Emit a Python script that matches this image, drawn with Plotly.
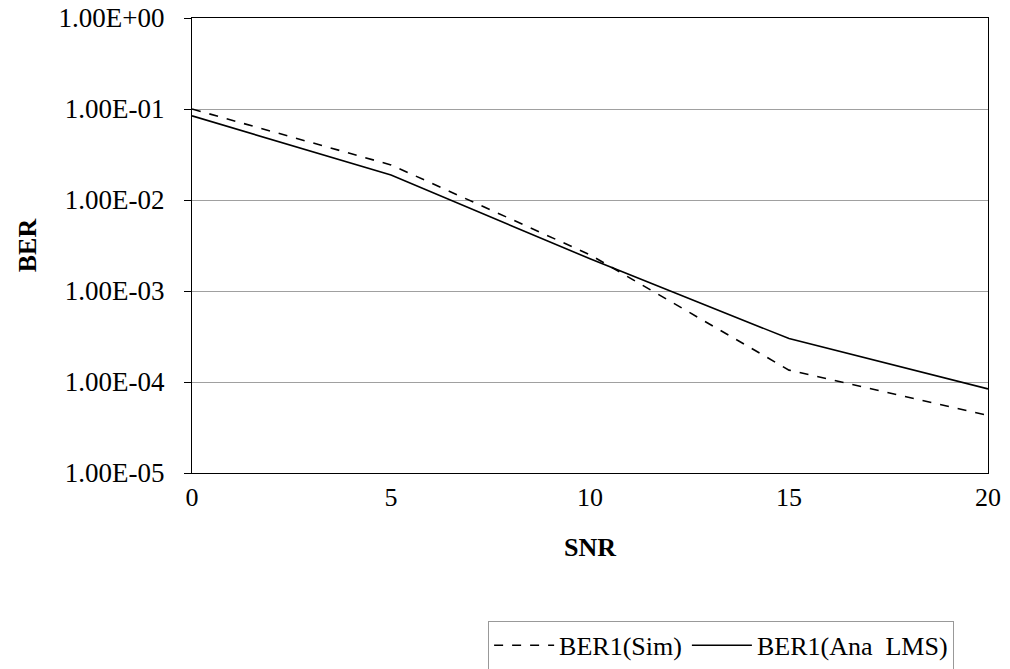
import plotly.graph_objects as go

snr = [0, 5, 10, 15, 20]
ber_sim = [0.100, 0.0243, 0.0025, 1.35e-4, 4.3e-5]
ber_ana = [0.084, 0.0188, 0.00226, 3.0e-4, 8.4e-5]

ytick_vals = [1e-5, 1e-4, 1e-3, 1e-2, 1e-1, 1e0]
ytick_text = ["1.00E-05", "1.00E-04", "1.00E-03", "1.00E-02", "1.00E-01", "1.00E+00"]
xtick_vals = [0, 5, 10, 15, 20]

font = "Liberation Serif, Times New Roman, serif"
fs = 26

fig = go.Figure()
fig.add_trace(go.Scatter(x=snr, y=ber_sim, mode="lines", name="BER1(Sim)",
                         line=dict(color="black", width=1.6, dash="dash")))
fig.add_trace(go.Scatter(x=snr, y=ber_ana, mode="lines", name="BER1(Ana  LMS)",
                         line=dict(color="black", width=1.6)))

fig.update_layout(
    width=1010, height=669,
    margin=dict(l=192, r=22, t=18, b=196, autoexpand=False),
    paper_bgcolor="white", plot_bgcolor="white",
    font=dict(family=font, size=fs, color="black"),
    showlegend=True,
    legend=dict(orientation="h", x=0.372, y=-0.325, xanchor="left", yanchor="top",
                bordercolor="#999", borderwidth=1, font=dict(size=fs, family=font),
                bgcolor="white", traceorder="normal", itemwidth=60),
    xaxis=dict(range=[0, 20], tickvals=xtick_vals, showgrid=False, zeroline=False,
               showline=True, linecolor="black", linewidth=1, mirror=True,
               ticks="", ticklabelstandoff=1, automargin=False,
               title=dict(text="<b>SNR</b>", standoff=26,
                          font=dict(size=fs, family=font))),
    yaxis=dict(type="log", range=[-5, 0], tickvals=ytick_vals, ticktext=ytick_text,
               tickfont=dict(size=27, family=font),
               showgrid=True, gridcolor="#a0a0a0", gridwidth=1, zeroline=False,
               showline=True, linecolor="black", linewidth=1, mirror=True,
               ticks="outside", ticklen=7, tickcolor="black", ticklabelstandoff=14,
               automargin=False,
               title=dict(text="<b>BER</b>", standoff=14, font=dict(size=fs, family=font))),
)

fig.write_html("out.html")
